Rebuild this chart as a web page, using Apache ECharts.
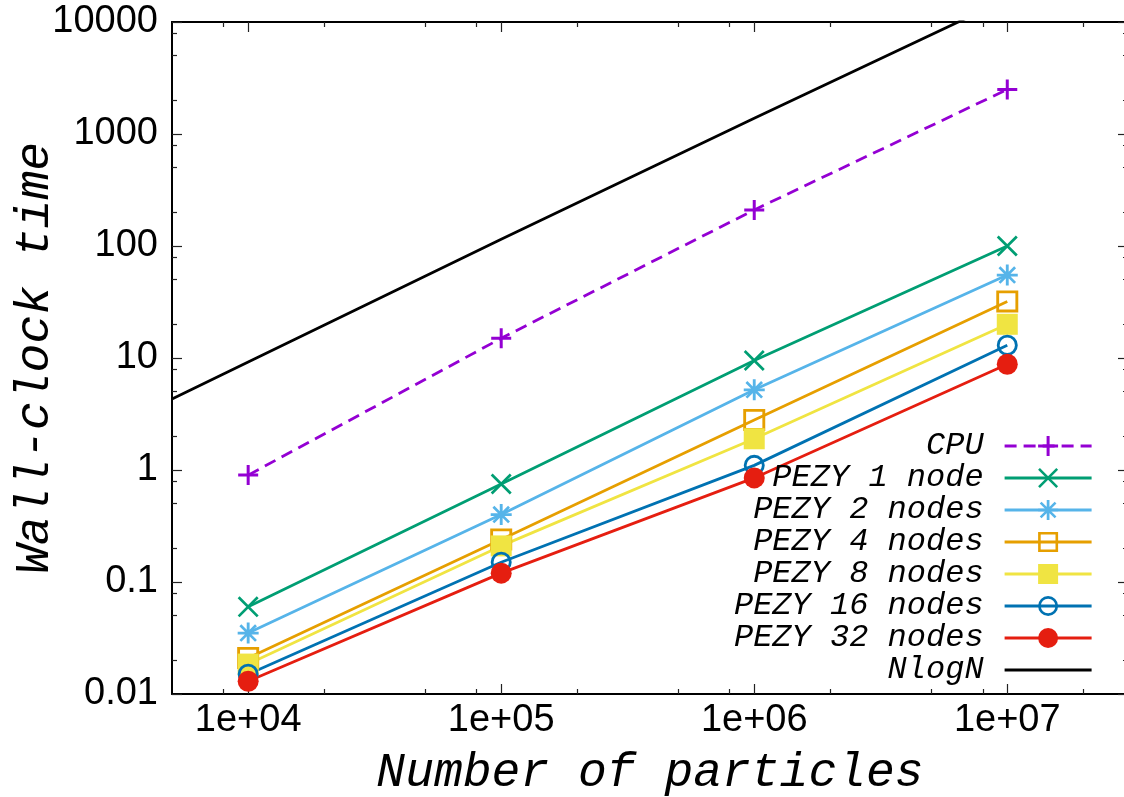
<!DOCTYPE html>
<html>
<head>
<meta charset="utf-8">
<script src="https://cdn.jsdelivr.net/npm/echarts@6/dist/echarts.min.js"></script>
<style>
  html, body { margin: 0; padding: 0; background: #fff; }
  #chart { width: 1124px; height: 797px; }
</style>
</head>
<body>
<div id="chart"></div>
<script>
// values
const particles = [1e4, 1e5, 1e6, 1e7];
const cpu    = [0.9, 15, 210, 2500];
const pezy1  = [0.06, 0.75, 9.5, 100];
const pezy2  = [0.035, 0.4, 5.2, 55];
const pezy4  = [0.021, 0.24, 2.8, 32];
const pezy8  = [0.0185, 0.21, 1.9, 20];
const pezy16 = [0.015, 0.15, 1.1, 13];
const pezy32 = [0.013, 0.12, 0.85, 8.8];
const nlognX = [5000, 1e4, 1e5, 1e6, 1e7];
const nlognY = [4.3, 9.2, 115, 1380, 16100];

const xTicks = [1e4, 1e5, 1e6, 1e7];
const xTickLabels = ['1e+04', '1e+05', '1e+06', '1e+07'];
const xMinor = [8e3, 2e4, 5e4, 8e4, 2e5, 5e5, 8e5, 2e6, 5e6, 8e6, 2e7];
const yTicks = [0.01, 0.1, 1, 10, 100, 1000, 10000];
const yTickLabels = ['0.01', '0.1', '1', '10', '100', '1000', '10000'];
const yMinor = [0.02, 0.05, 0.08, 0.2, 0.5, 0.8, 2, 5, 8, 20, 50, 80, 200, 500, 800, 2000, 5000, 8000];

// symbol shapes (gnuplot style)
const plusPath = 'path://M-1.5,-10 L1.5,-10 L1.5,10 L-1.5,10 Z M-10,-1.5 L10,-1.5 L10,1.5 L-10,1.5 Z';
const crossPath = 'path://M-9,-11 L11,9 L9,11 L-11,-9 Z M9,-11 L11,-9 L-9,11 L-11,9 Z';
const starPath = 'path://M-1.5,-11 L1.5,-11 L1.5,11 L-1.5,11 Z M-11,-1.5 L11,-1.5 L11,1.5 L-11,1.5 Z M-7.2,-9.2 L9.2,7.2 L7.2,9.2 L-9.2,-7.2 Z M7.2,-9.2 L9.2,-7.2 L-7.2,9.2 L-9.2,7.2 Z';
const openSquarePath = 'path://M-10,-10 L10,-10 L10,10 L-10,10 Z M-7.4,-7.4 L-7.4,7.4 L7.4,7.4 L7.4,-7.4 Z';
const openCirclePath = 'path://M0,-10 A10,10 0 1,1 0,10 A10,10 0 1,1 0,-10 Z M0,-7.3 A7.3,7.3 0 1,0 0,7.3 A7.3,7.3 0 1,0 0,-7.3 Z';

const chart = echarts.init(document.getElementById('chart'));

function pairs(xs, ys) {
    return xs.map(function (x, i) { return [x, ys[i]]; });
}

function pointSeries(name, ys, color, symbol, size, dashed) {
    return {
        name: name,
        type: 'line',
        data: pairs(particles, ys),
        symbol: symbol,
        symbolSize: size,
        showSymbol: true,
        itemStyle: { color: color, borderWidth: 0 },
        lineStyle: { color: color, width: 2.8, type: dashed ? [12, 7] : 'solid' },
        emphasis: { disabled: true },
        animation: false
    };
}

const tickColor = '#222';
const labelFont = { fontFamily: 'Liberation Sans', fontSize: 38, color: '#000' };
const titleFont = { fontFamily: 'Liberation Mono', fontStyle: 'italic', fontSize: 48, color: '#000' };

function xAxisOf(position, tickLen, values, main) {
    return {
        type: 'log',
        logBase: 10,
        min: 5000,
        max: 3e7,
        position: position,
        name: main ? 'Number of particles' : '',
        nameLocation: 'middle',
        nameGap: 55,
        nameMoveOverlap: false,
        nameTextStyle: titleFont,
        axisLine: { show: main || position === 'top', lineStyle: { color: '#000', width: 2 } },
        axisTick: { show: true, inside: true, length: tickLen, customValues: values, lineStyle: { color: tickColor, width: 1.2 } },
        axisLabel: main ? Object.assign({
            show: true,
            margin: 8,
            customValues: xTicks,
            formatter: function (v) {
                const i = xTicks.findIndex(function (t) { return Math.abs(Math.log10(t) - Math.log10(v)) < 1e-6; });
                return i >= 0 ? xTickLabels[i] : '';
            }
        }, labelFont) : { show: false },
        splitLine: { show: false },
        minorTick: { show: false }
    };
}

function yAxisOf(position, tickLen, values, main) {
    return {
        type: 'log',
        logBase: 10,
        min: 0.01,
        max: 10000,
        position: position,
        name: main ? 'Wall-clock time' : '',
        nameLocation: 'middle',
        nameGap: 113,
        nameMoveOverlap: false,
        nameTextStyle: titleFont,
        axisLine: { show: main || position === 'right', lineStyle: { color: '#000', width: 2 } },
        axisTick: { show: true, inside: true, length: tickLen, customValues: values, lineStyle: { color: tickColor, width: 1.2 } },
        axisLabel: main ? Object.assign({
            show: true,
            margin: 14,
            customValues: yTicks,
            formatter: function (v) {
                const i = yTicks.findIndex(function (t) { return Math.abs(Math.log10(t) - Math.log10(v)) < 1e-6; });
                return i >= 0 ? yTickLabels[i] : '';
            }
        }, labelFont) : { show: false },
        splitLine: { show: false },
        minorTick: { show: false }
    };
}

const option = {
    backgroundColor: '#fff',
    animation: false,
    grid: { left: 172, right: -4, top: 22, bottom: 103, containLabel: false, outerBoundsMode: 'none' },
    xAxis: [
        xAxisOf('bottom', 10, xTicks, true),
        xAxisOf('bottom', 5, xMinor, false),
        xAxisOf('top', 10, xTicks, false),
        xAxisOf('top', 5, xMinor, false)
    ],
    yAxis: [
        yAxisOf('left', 10, yTicks, true),
        yAxisOf('left', 5, yMinor, false),
        yAxisOf('right', 10, yTicks, false),
        yAxisOf('right', 5, yMinor, false)
    ],
    legend: {
        orient: 'vertical',
        align: 'right',
        right: 31,
        top: 430,
        padding: 0,
        itemWidth: 87,
        itemHeight: 25,
        itemGap: 0,
        selectedMode: false,
        lineStyle: { width: 2.8 },
        textStyle: {
            fontFamily: 'Liberation Mono',
            fontStyle: 'italic',
            fontSize: 32,
            lineHeight: 32,
            color: '#000',
            padding: [0, 16, 0, 0]
        },
        data: ['CPU', 'PEZY 1 node', 'PEZY 2 nodes', 'PEZY 4 nodes', 'PEZY 8 nodes', 'PEZY 16 nodes', 'PEZY 32 nodes', 'NlogN']
    },
    series: [
        pointSeries('CPU', cpu, '#9400d3', plusPath, 20, true),
        pointSeries('PEZY 1 node', pezy1, '#009e73', crossPath, 21, false),
        pointSeries('PEZY 2 nodes', pezy2, '#56b4e9', starPath, 21, false),
        pointSeries('PEZY 4 nodes', pezy4, '#e69f00', openSquarePath, 22, false),
        pointSeries('PEZY 8 nodes', pezy8, '#f0e442', 'rect', 21, false),
        pointSeries('PEZY 16 nodes', pezy16, '#0072b2', openCirclePath, 21, false),
        pointSeries('PEZY 32 nodes', pezy32, '#e51e10', 'circle', 21, false),
        {
            name: 'NlogN',
            type: 'line',
            data: pairs(nlognX, nlognY),
            symbol: 'circle',
            symbolSize: 0,
            showSymbol: false,
            clip: true,
            itemStyle: { color: 'rgba(0,0,0,0)', borderWidth: 0 },
            lineStyle: { color: '#000', width: 2.8 },
            emphasis: { disabled: true },
            animation: false
        }
    ]
};

chart.setOption(option);
</script>
</body>
</html>
